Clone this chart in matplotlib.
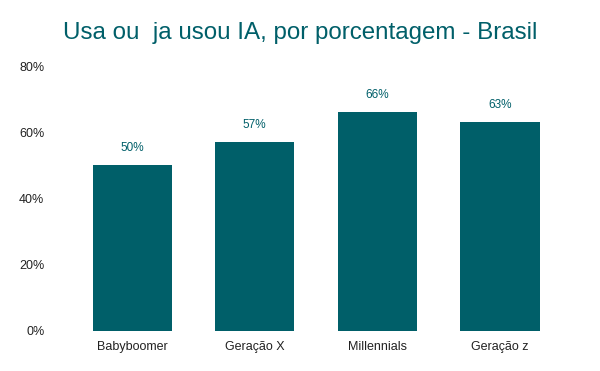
import matplotlib.pyplot as plt
from matplotlib.ticker import FuncFormatter

plt.rcParams['font.family'] = ['Liberation Sans', 'DejaVu Sans']

geracoes = ['Babyboomer', 'Geração X', 'Millennials', 'Geração z']
pct_ia = [50, 57, 66, 63]

teal = '#005f69'

fig = plt.figure(figsize=(6, 3.71), dpi=100)
ax = fig.add_axes([0.118, 0.108, 0.8175, 0.714])

bars = ax.bar(geracoes, pct_ia, width=0.645, color=teal)
for b, v in zip(bars, pct_ia):
    ax.annotate(f'{v}%', (b.get_x() + b.get_width() / 2, v), xytext=(0, 8),
                textcoords='offset points', ha='center', va='bottom',
                fontsize=8.5, color=teal)

ax.set_ylim(0, 80)
ax.set_yticks([0, 20, 40, 60, 80])
ax.yaxis.set_major_formatter(FuncFormatter(lambda v, p: f'{v:.0f}%'))
ax.set_xlim(-0.5, 3.5)
ax.tick_params(length=0, labelsize=9, labelcolor='#222222')
ax.tick_params(axis='y', pad=19)
ax.tick_params(axis='x', pad=7)
for s in ax.spines.values():
    s.set_visible(False)

fig.text(0.5, 0.911, 'Usa ou  ja usou IA, por porcentagem - Brasil',
         fontsize=17.4, color=teal, ha='center', va='center')

fig.savefig('out.png')
